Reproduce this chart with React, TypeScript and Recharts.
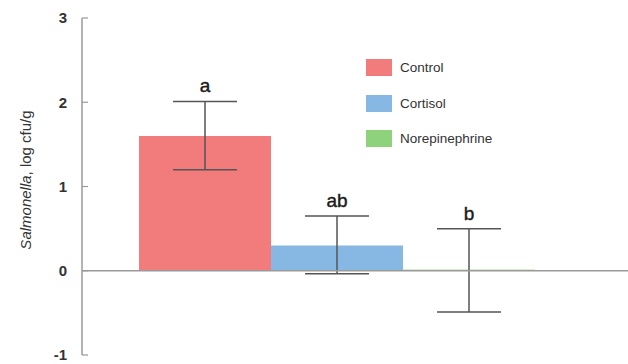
import React from 'react';
import {
  ComposedChart,
  Bar,
  Cell,
  XAxis,
  YAxis,
  ErrorBar,
  ReferenceLine,
  ReferenceDot,
} from 'recharts';

const groups = ['Control', 'Cortisol', 'Norepinephrine'];
const means = [1.6, 0.3, 0.02];
const errLow = [0.4, 0.335, 0.51];
const errHigh = [0.41, 0.35, 0.48];
const letters = ['a', 'ab', 'b'];
const colors = ['#F27B7C', '#87B8E3', '#8ED27C'];
const fillOpacity = [1, 1, 0.35];
const yTicks = [-1, 0, 1, 2, 3];

const data = groups.map((g, i) => ({
  name: g,
  value: means[i],
  err: [errLow[i], errHigh[i]],
  top: means[i] + errHigh[i],
}));

const FONT = '"Liberation Sans", Arial, Helvetica, sans-serif';
const AXIS = '#9a9a9a';

const YTick = (props: any) => {
  const { x, y, payload } = props;
  return (
    <g>
      <line x1={x} x2={x + 6} y1={y} y2={y} stroke={AXIS} strokeWidth={1.2} />
      <text
        x={x - 15}
        y={y}
        dy="0.36em"
        textAnchor="end"
        fontFamily={FONT}
        fontSize={15}
        fontWeight="bold"
        fill="#333"
      >
        {payload.value}
      </text>
    </g>
  );
};

const XTick = (props: any) => {
  const { x, y, index } = props;
  if (index !== 1) return <g />;
  return <line x1={x} x2={x} y1={y - 6} y2={y} stroke={AXIS} strokeWidth={1.2} />;
};

const YLabel = () => (
  <text
    x={31}
    y={180}
    transform="rotate(-90 31 180)"
    textAnchor="middle"
    fontFamily={FONT}
    fontSize={15}
    fill="#333"
  >
    <tspan fontStyle="italic">Salmonella</tspan>
    <tspan>, log cfu/g</tspan>
  </text>
);

const LegendBox = () => (
  <div style={{ position: 'absolute', left: 366, top: 59, fontFamily: FONT }}>
    {groups.map((g, i) => (
      <div
        key={g}
        style={{ display: 'flex', alignItems: 'center', height: 17, marginBottom: i < groups.length - 1 ? 18.5 : 0 }}
      >
        <div style={{ width: 26, height: 17, background: colors[i], marginRight: 8 }} />
        <span style={{ fontSize: 13.5, color: '#333' }}>{g}</span>
      </div>
    ))}
  </div>
);

export default function App() {
  return (
    <div style={{ position: 'absolute', left: 0, top: 0, width: 628, height: 364, background: '#fff' }}>
      <ComposedChart
        width={628}
        height={364}
        data={data}
        margin={{ top: 18, right: 0, bottom: 9, left: 0 }}
        barCategoryGap={0}
        barGap={0}
      >
        <XAxis
          dataKey="name"
          height={0}
          padding={{ left: 57, right: 93 }}
          axisLine={{ stroke: AXIS, strokeWidth: 1.5 }}
          tickLine={false}
          tickSize={0}
          tickMargin={0}
          tick={<XTick />}
          interval={0}
        />
        <YAxis
          width={82}
          domain={[-1, 3]}
          ticks={yTicks}
          type="number"
          allowDataOverflow
          axisLine={{ stroke: AXIS, strokeWidth: 1.5 }}
          tickLine={false}
          tickSize={0}
          tickMargin={0}
          tick={<YTick />}
          label={{ content: () => <YLabel /> }}
        />
        <Bar dataKey="value" isAnimationActive={false}>
          {data.map((d, i) => (
            <Cell key={d.name} fill={colors[i]} fillOpacity={fillOpacity[i]} />
          ))}
          <ErrorBar dataKey="err" width={32} stroke="#555" strokeWidth={1.5} direction="y" />
        </Bar>
        <ReferenceLine y={0} stroke={AXIS} strokeWidth={1.5} />
        {data.map((d, i) => (
          <ReferenceDot
            key={d.name}
            x={d.name}
            y={d.top}
            r={0}
            stroke="none"
            fill="none"
            label={{
              value: letters[i],
              position: 'top',
              offset: 9,
              fontFamily: FONT,
              fontSize: 19,
              fill: '#1a1a1a',
              stroke: '#1a1a1a',
              strokeWidth: 0.4,
            }}
          />
        ))}
      </ComposedChart>
      <LegendBox />
    </div>
  );
}
